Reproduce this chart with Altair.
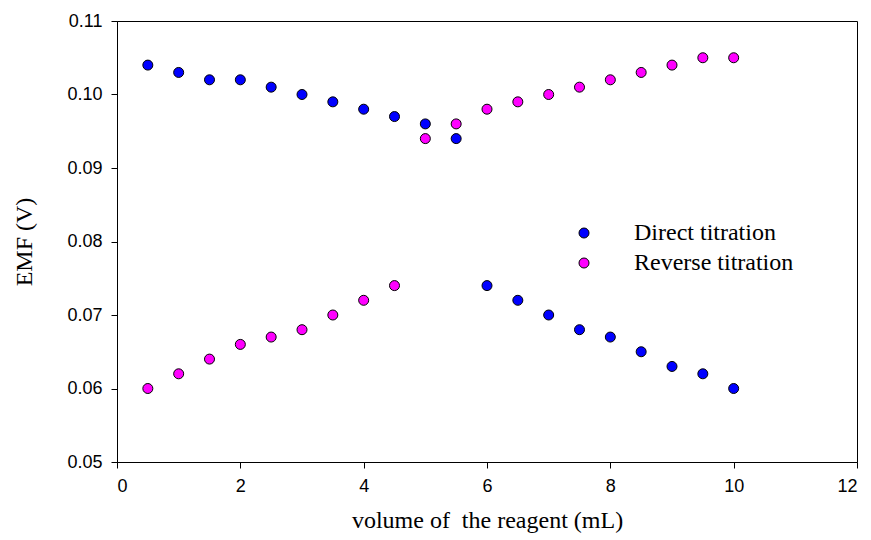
import altair as alt
import pandas as pd

volume = [0.5, 1.0, 1.5, 2.0, 2.5, 3.0, 3.5, 4.0, 4.5, 5.0,
          5.5, 6.0, 6.5, 7.0, 7.5, 8.0, 8.5, 9.0, 9.5, 10.0]
direct_emf = [0.104, 0.103, 0.102, 0.102, 0.101, 0.100, 0.099, 0.098, 0.097, 0.096,
              0.094, 0.074, 0.072, 0.070, 0.068, 0.067, 0.065, 0.063, 0.062, 0.060]
reverse_emf = [0.060, 0.062, 0.064, 0.066, 0.067, 0.068, 0.070, 0.072, 0.074, 0.094,
               0.096, 0.098, 0.099, 0.100, 0.101, 0.102, 0.103, 0.104, 0.105, 0.105]
series_names = ["Direct titration", "Reverse titration"]
series_colors = ["#0000ff", "#ff00ff"]
x_ticks = [0, 2, 4, 6, 8, 10, 12]
y_ticks = [0.05, 0.06, 0.07, 0.08, 0.09, 0.10, 0.11]

df = pd.concat([
    pd.DataFrame({"volume": volume, "emf": direct_emf, "series": series_names[0]}),
    pd.DataFrame({"volume": volume, "emf": reverse_emf, "series": series_names[1]}),
])

chart = alt.Chart(df).mark_point(
    filled=True, size=100, stroke="black", strokeWidth=1, opacity=1
).encode(
    x=alt.X("volume:Q", scale=alt.Scale(domain=[0, 12], nice=False),
            axis=alt.Axis(values=x_ticks, title="volume of \u00a0the reagent (mL)", format="d")),
    y=alt.Y("emf:Q", scale=alt.Scale(domain=[0.05, 0.11], nice=False, zero=False),
            axis=alt.Axis(values=y_ticks, title="EMF (V)", format=".2f")),
    color=alt.Color("series:N", scale=alt.Scale(domain=series_names, range=series_colors),
                    legend=alt.Legend(title=None, orient="none", legendX=455, legendY=200,
                                      symbolSize=100, symbolStrokeColor="black",
                                      symbolStrokeWidth=1, symbolType="circle",
                                      labelFont="Liberation Serif", labelFontSize=24,
                                      labelColor="black", labelOffset=38, rowPadding=6)),
).properties(
    width=740, height=441,
    autosize=alt.AutoSizeParams(type="none"),
    padding={"left": 117, "top": 21, "right": 14, "bottom": 78},
).configure_view(
    stroke="black", strokeWidth=1
).configure_axis(
    grid=False, domainColor="black", tickColor="black", tickSize=6,
    labelFont="Liberation Sans", labelFontSize=18, labelColor="black",
    titleFont="Liberation Serif", titleFontWeight="normal", titleColor="black",
    labelPadding=9,
).configure_axisX(
    titleFontSize=24, titlePadding=13,
).configure_axisY(
    titleFontSize=24, titlePadding=30,
)

chart.save("out.html", embed_options={"renderer": "svg", "actions": False})
